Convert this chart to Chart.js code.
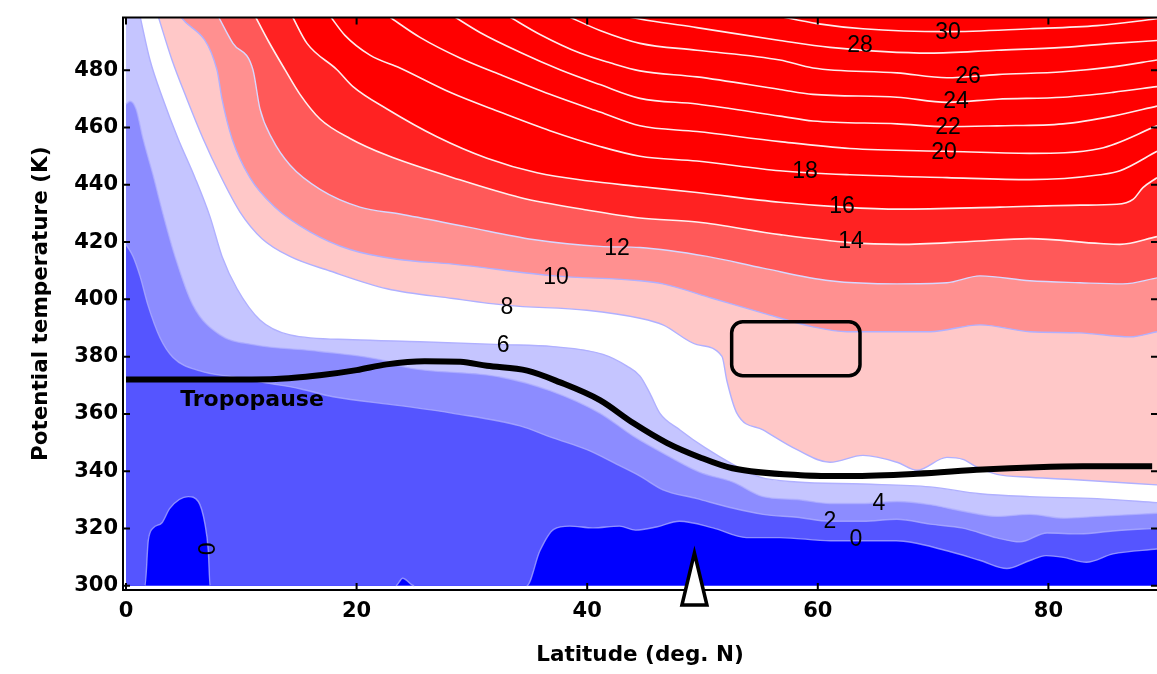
<!DOCTYPE html>
<html><head><meta charset="utf-8">
<script src="https://cdn.jsdelivr.net/npm/chart.js@4.4.1/dist/chart.umd.min.js"></script>
<style>html,body{margin:0;padding:0;background:#fff;}</style>
</head><body>
<canvas id="c" width="1157" height="674"></canvas>
<script>
// ---- axes ----
const latTicks = [0, 20, 40, 60, 80];
const thetaTicks = [300, 320, 340, 360, 380, 400, 420, 440, 460, 480];
const levels = [0, 2, 4, 6, 8, 10, 12, 14, 16, 18, 20, 22, 24, 26, 28, 30];

// ---- contour lines: [latitude, potential temperature] ----
const pv0 = [[0,300],[1.65,300],[1.93,315.7],[2.37,320.2],[3.1,321.9],[3.82,327.1],[5.4,331.1],[6.27,329.4],[6.85,321.5],[7.14,312.2],[7.29,300],[23.4,300],[24.0,302.6],[25.0,300],[34.75,300],[35.9,312.2],[37.1,319.7],[38.5,320.8],[40.5,320.2],[42.8,320.8],[44.2,319.4],[46.0,320.5],[48.0,322.5],[50.9,320.2],[53.8,316.8],[56.7,316.8],[61.1,315.7],[66.8,315.7],[71.2,312.2],[74.1,308.8],[76.4,306.0],[78.4,308.8],[79.8,310.5],[81.3,309.9],[83.3,308.2],[85.6,311.1],[89.42,312.8]];
const pv2 = [[0,419.2],[0.61,415.0],[1.21,408.2],[1.91,397.9],[2.95,386.6],[4.08,379.7],[6.42,375.0],[9.28,372.9],[12.23,370.8],[15.09,368.8],[17.95,366.0],[23.76,362.9],[28.36,360.2],[34.17,355.8],[37.03,351.6],[39.98,347.5],[42.58,342.4],[44.58,338.3],[46.57,333.5],[49.52,330.4],[52.38,327.3],[55.25,324.9],[58.2,323.9],[61.06,322.5],[63.92,322.5],[66.87,323.2],[69.73,321.5],[72.59,320.1],[75.54,316.7],[77.54,315.3],[79.88,318.4],[82.74,318.1],[85.6,319.1],[89.42,320.1]];
const pv4 = [[0,468.2],[0.35,469.2],[0.87,466.5],[1.47,456.2],[2.34,443.5],[3.21,429.8],[4.25,415.0],[5.81,397.9],[8.15,387.6],[11.01,384.2],[16.83,381.8],[22.64,378.4],[23.76,376.7],[32.44,372.9],[36.77,368.1],[41.11,360.2],[43.97,352.3],[46.92,345.5],[49.78,339.6],[52.64,336.2],[55.25,331.1],[58.2,330.1],[61.06,328.7],[63.92,328.7],[66.87,329.4],[69.73,328.3],[72.59,326.0],[75.54,324.2],[78.4,324.9],[81.27,323.6],[84.22,324.2],[89.42,325.3]];
const pv6 = [[1.21,499],[2.08,483.6],[3.21,469.9],[4.51,456.2],[5.98,442.5],[7.29,428.8],[8.33,415.0],[9.63,403.7],[11.62,392.8],[14.22,387.6],[19.69,385.9],[25.5,385.2],[32.61,384.2],[37.03,383.5],[41.37,380.8],[43.45,376.7],[44.58,373.2],[45.45,367.1],[46.31,360.2],[48.05,354.4],[50.22,348.2],[52.64,342.4],[54.99,337.9],[58.2,336.2],[63.92,335.5],[69.73,334.5],[74.07,332.1],[78.4,331.1],[84.22,330.4],[89.42,329.0]];
const pv8 = [[2.78,499],[3.99,483.6],[5.29,469.9],[6.68,456.2],[8.15,443.5],[9.89,430.5],[11.8,421.2],[14.22,415.0],[17.69,409.9],[22.64,403.7],[28.36,400.3],[33.04,397.9],[39.98,396.2],[44.58,393.4],[46.57,391.1],[49.52,384.2],[51.69,380.1],[52.12,371.5],[52.99,360.2],[55.25,354.4],[58.2,347.5],[61.06,343.1],[63.92,345.5],[66.87,343.1],[68.6,340.3],[71.2,344.8],[72.59,344.1],[73.81,341.4],[75.54,338.9],[78.4,337.9],[82.74,336.9],[89.42,335.2]];
const pv10 = [[4.68,499],[7.89,480.2],[8.33,469.9],[9.19,456.2],[10.75,442.5],[12.92,432.2],[15.96,423.6],[19.43,417.4],[23.5,414.0],[28.36,412.3],[37.21,408.2],[44.58,406.5],[46.57,405.4],[50.91,400.3],[55.25,395.2],[59.58,390.4],[62.53,388.7],[69.73,388.7],[74.07,391.1],[78.4,388.7],[82.74,388.3],[87.08,386.9],[89.42,388.7]];
const pv12 = [[7.98,499],[9.28,489.4],[11.01,480.2],[11.62,466.5],[12.66,456.2],[14.22,446.9],[16.83,438.4],[20.29,432.2],[23.76,429.8],[29.57,425.3],[35.3,420.9],[41.11,418.5],[44.58,418.1],[50.39,415.0],[55.25,410.9],[61.06,406.5],[66.87,405.4],[71.2,405.8],[74.07,408.2],[78.4,406.5],[82.74,405.8],[86.47,405.4],[89.42,407.5]];
const pv14 = [[11.19,499],[12.32,490.4],[13.79,480.2],[15.09,471.6],[16.83,463.0],[19.43,456.2],[22.64,450.3],[28.36,442.5],[34.17,435.6],[39.98,431.2],[44.58,428.4],[49.52,427.0],[56.72,422.6],[62.79,419.8],[67.13,419.2],[73.2,420.2],[78.4,421.2],[84.48,419.5],[86.21,419.2],[89.42,421.9]];
const pv16 = [[14.4,499],[15.7,489.4],[18.3,480.2],[19.69,474.3],[22.64,466.5],[26.97,456.8],[31.31,449.3],[35.65,444.2],[39.98,441.4],[44.58,439.4],[49.52,437.3],[56.72,433.9],[62.19,432.2],[67.13,431.5],[75.8,432.2],[82.74,432.9],[85.95,433.2],[87.34,434.9],[88.2,439.0],[89.42,442.5]];
const pv18 = [[17.69,499],[18.99,492.2],[21.16,485.3],[23.76,480.8],[28.1,472.3],[32.44,465.4],[36.77,458.9],[41.11,453.4],[44.58,450.0],[49.52,448.3],[56.72,444.9],[62.79,443.5],[71.2,442.5],[78.4,441.8],[84.48,443.5],[86.21,444.9],[89.42,451.7]];
const pv20 = [[22.72,499],[25.5,491.5],[28.97,484.3],[32.44,478.5],[36.77,471.6],[41.11,465.4],[44.58,460.6],[49.52,458.6],[56.72,455.1],[62.79,452.7],[71.2,451.7],[78.4,451.0],[84.48,452.7],[89.42,460.6]];
const pv22 = [[28.36,499],[30.7,493.2],[34.17,486.3],[37.64,480.2],[41.11,475.0],[44.58,470.2],[49.52,468.2],[56.72,464.0],[59.58,462.3],[66.87,461.3],[71.2,460.3],[75.54,460.6],[81.27,461.3],[85.6,464.0],[89.42,467.5]];
const pv24 = [[33.13,499],[35.91,492.5],[39.37,486.0],[41.98,482.6],[44.58,479.8],[49.52,477.7],[56.72,473.3],[59.58,471.6],[66.87,470.6],[71.2,468.8],[75.54,469.9],[81.27,470.6],[85.6,472.3],[89.42,474.3]];
const pv26 = [[38.25,499],[41.11,493.9],[44.58,489.4],[49.52,487.0],[56.72,483.6],[59.58,480.8],[66.87,479.1],[71.2,477.4],[75.54,478.5],[81.27,479.5],[85.6,481.2],[89.42,483.6]];
const pv28 = [[43.02,499],[45.45,497.3],[49.52,494.9],[56.72,490.4],[61.06,488.0],[69.73,486.0],[75.54,487.0],[81.27,488.0],[85.6,489.4],[89.42,490.4]];
const pv30 = [[56.46,499],[59.93,496.3],[63.92,494.5],[71.2,493.5],[78.4,494.5],[84.22,495.6],[89.42,498.0]];

// ---- tropopause ----
const tropopause = [[0,372.0],[8,372.0],[13,372.2],[16.8,373.5],[20,375.3],[22.6,377.3],[25.9,378.4],[29,378.2],[31.3,376.8],[34.8,375.1],[37.6,371.1],[41.1,364.8],[44,356.8],[46.9,349.9],[49.8,344.8],[52.6,341.0],[58.5,338.6],[62.8,338.3],[68.6,339.1],[74.3,340.6],[79,341.4],[83,341.7],[89,341.7]];

// ---- annotations ----
const contourLabels = [["30",71.29,493.2],["28",63.66,488.7],["26",73.03,477.8],["24",71.99,469.2],["22",71.29,459.9],["20",70.95,451.4],["18",58.89,444.5],["16",62.1,432.5],["14",62.88,420.2],["12",42.58,417.8],["10",37.29,407.5],["8",33.04,397.2],["6",32.7,383.9],["4",65.31,328.7],["2",61.06,322.2],["0",63.31,316.0]];
const rotatedLabel = ["0", 7.2, 312.9];
const tropoLabel = ["Tropopause", 10.93, 364.6];
const boxLat = [52.53, 63.66];
const boxTheta = [373.3, 392.2];
const markerLat = 49.3;

// ---- styles ----
const bandColors = ['#5555ff','#8c8cff','#c5c5ff','#ffffff','#ffc8c8','#ff9090','#ff5959','#ff2222','#ff0000'];
const contours = [pv0,pv2,pv4,pv6,pv8,pv10,pv12,pv14,pv16,pv18,pv20,pv22,pv24,pv26,pv28,pv30];

function lineColor(level){
  if (level <= 4) return 'rgba(175,175,255,0.75)';
  if (level <= 10) return '#b0b0ff';
  if (level === 12) return '#d8d8ff';
  return 'rgba(255,255,255,0.92)';
}
const toXY = arr => arr.map(p => ({x:p[0], y:p[1]}));

const datasets = [];
datasets.push({data: toXY([[0,300],[89.42,300]]), fill:'end', backgroundColor:'#0000ff', borderWidth:0, order:200, pointRadius:0});
contours.forEach((pts, i) => {
  const lev = levels[i];
  const lc = lineColor(lev);
  const filled = i < bandColors.length;
  datasets.push({
    data: toXY(pts),
    fill: filled ? 'end' : false,
    backgroundColor: filled ? bandColors[i] : 'transparent',
    borderColor: lev === 0 ? 'rgba(0,0,0,0)' : lc,
    borderWidth: lev === 0 ? 0 : (lev >= 14 ? 1.6 : 1.4),
    cubicInterpolationMode: 'monotone',
    pointRadius: 0,
    order: 150 - 2 * i
  });
  if (lev === 0) {
    // outline of the negative blobs, drawn without fill
    datasets.push({
      data: toXY(pts), fill: false, borderColor: lc, borderWidth: 1.4,
      cubicInterpolationMode: 'monotone', pointRadius: 0, order: 149,
      segment: { borderColor: c => (c.p0.parsed.y <= 300.01 && c.p1.parsed.y <= 300.01) ? 'rgba(0,0,0,0)' : lc }
    });
  }
});
datasets.push({data: toXY(tropopause), fill:false, borderColor:'#000', borderWidth:6, cubicInterpolationMode:'monotone', pointRadius:0, order:1, borderCapStyle:'butt'});

const overlay = {
  id: 'overlay',
  afterDatasetsDraw(chart) {
    const {ctx, chartArea: ca, scales: {x, y}} = chart;
    ctx.save();
    // rounded box
    const bx0 = x.getPixelForValue(boxLat[0]), bx1 = x.getPixelForValue(boxLat[1]);
    const by0 = y.getPixelForValue(boxTheta[1]), by1 = y.getPixelForValue(boxTheta[0]);
    const r = 11;
    ctx.beginPath();
    ctx.moveTo(bx0 + r, by0);
    ctx.lineTo(bx1 - r, by0); ctx.arcTo(bx1, by0, bx1, by0 + r, r);
    ctx.lineTo(bx1, by1 - r); ctx.arcTo(bx1, by1, bx1 - r, by1, r);
    ctx.lineTo(bx0 + r, by1); ctx.arcTo(bx0, by1, bx0, by1 - r, r);
    ctx.lineTo(bx0, by0 + r); ctx.arcTo(bx0, by0, bx0 + r, by0, r);
    ctx.closePath();
    ctx.lineWidth = 3.5; ctx.strokeStyle = '#000'; ctx.stroke();

    // contour labels
    ctx.fillStyle = '#000';
    ctx.textAlign = 'center'; ctx.textBaseline = 'middle';
    ctx.font = '23px "Liberation Sans", Arial, sans-serif';
    contourLabels.forEach(([t, la, th]) => ctx.fillText(t, x.getPixelForValue(la), y.getPixelForValue(th)));
    ctx.save();
    ctx.translate(x.getPixelForValue(rotatedLabel[1]), y.getPixelForValue(rotatedLabel[2]));
    ctx.rotate(-Math.PI/2);
    ctx.fillText(rotatedLabel[0], 0, 0);
    ctx.restore();
    ctx.font = 'bold 22px "DejaVu Sans", sans-serif';
    ctx.fillText(tropoLabel[0], x.getPixelForValue(tropoLabel[1]), y.getPixelForValue(tropoLabel[2]));

    // frame
    ctx.strokeStyle = '#000'; ctx.lineWidth = 2;
    ctx.beginPath();
    ctx.moveTo(ca.right, ca.top); ctx.lineTo(ca.left, ca.top); ctx.lineTo(ca.left, ca.bottom); ctx.lineTo(ca.right, ca.bottom);
    ctx.stroke();
    // inward ticks
    ctx.beginPath();
    latTicks.forEach(v => {
      const px = x.getPixelForValue(v);
      ctx.moveTo(px, ca.bottom); ctx.lineTo(px, ca.bottom - 7);
      ctx.moveTo(px, ca.top); ctx.lineTo(px, ca.top + 7);
    });
    thetaTicks.forEach(v => {
      const py = y.getPixelForValue(v);
      ctx.moveTo(ca.left, py); ctx.lineTo(ca.left + 7, py);
      ctx.moveTo(ca.right, py); ctx.lineTo(ca.right - 6, py);
    });
    ctx.stroke();

    // triangle marker
    const mx = x.getPixelForValue(markerLat);
    ctx.beginPath();
    ctx.moveTo(mx, ca.bottom - 37);
    ctx.lineTo(mx + 12.5, ca.bottom + 15);
    ctx.lineTo(mx - 12.5, ca.bottom + 15);
    ctx.closePath();
    ctx.fillStyle = '#fff'; ctx.fill();
    ctx.lineWidth = 3.5; ctx.lineJoin = 'miter'; ctx.strokeStyle = '#000'; ctx.stroke();
    ctx.restore();
  }
};

const tickFont = {family: 'DejaVu Sans', size: 21, weight: 'bold'};
const titleFont = {family: 'DejaVu Sans', size: 21.5, weight: 'bold'};

new Chart(document.getElementById('c'), {
  type: 'line',
  data: { datasets },
  options: {
    responsive: false,
    animation: false,
    devicePixelRatio: 1,
    layout: { padding: {top: 7, right: 0, bottom: 0, left: 0}, autoPadding: false },
    plugins: { legend: {display: false}, tooltip: {enabled: false} },
    elements: { point: {radius: 0} },
    scales: {
      x: {
        type: 'linear', min: -0.26, max: 89.42,
        grid: {display: false, drawTicks: false},
        border: {display: false},
        ticks: {stepSize: 20, includeBounds: false, autoSkip: false, maxRotation: 0, color: '#000', font: tickFont, padding: 9},
        afterBuildTicks: s => { s.ticks = latTicks.map(v => ({value: v})); },
        title: {display: true, text: 'Latitude (deg. N)', color: '#000', font: titleFont, padding: {top: 0, bottom: 5.6}},
        afterFit: s => { s.height = 84; }
      },
      y: {
        type: 'linear', min: 298.5, max: 498.4,
        grid: {display: false, drawTicks: false},
        border: {display: false},
        ticks: {stepSize: 20, includeBounds: false, autoSkip: false, color: '#000', font: tickFont, padding: 5},
        afterBuildTicks: s => { s.ticks = thetaTicks.map(v => ({value: v})); },
        title: {display: true, text: 'Potential temperature (K)', color: '#000', font: titleFont, padding: {top: 28.5, bottom: 0}},
        afterFit: s => { s.width = 123; }
      }
    }
  },
  plugins: [overlay]
});
</script>
</body></html>
